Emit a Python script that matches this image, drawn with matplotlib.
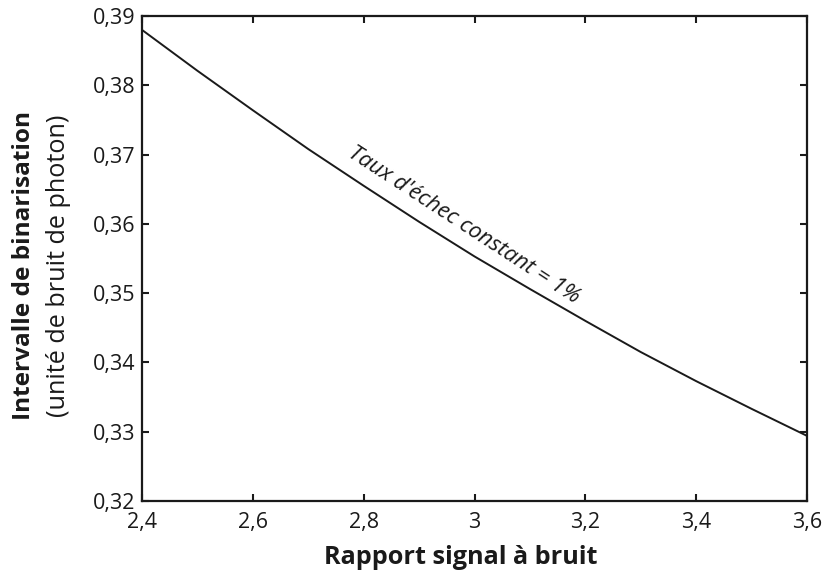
import matplotlib
matplotlib.use("Agg")
import matplotlib.pyplot as plt
from matplotlib.ticker import FuncFormatter

plt.rcParams['font.family'] = ['Open Sans', 'DejaVu Sans']

# values
snr = [2.4, 2.5, 2.6, 2.7, 2.8, 2.9, 3.0, 3.1, 3.2, 3.3, 3.4, 3.5, 3.6]
interval = [0.3880, 0.3821, 0.3764, 0.3708, 0.3655, 0.3603, 0.3553,
            0.3506, 0.3460, 0.3415, 0.3373, 0.3333, 0.3294]

xticks = [2.4, 2.6, 2.8, 3.0, 3.2, 3.4, 3.6]
yticks = [0.32, 0.33, 0.34, 0.35, 0.36, 0.37, 0.38, 0.39]

fig = plt.figure(figsize=(8.23, 5.76), dpi=100)
ax = fig.add_subplot(111)
fig.subplots_adjust(left=0.1725, right=0.9806, bottom=0.1302, top=0.9722)

ax.plot(snr, interval, color='#1a1a1a', lw=1.4)

ax.set_xlim(2.4, 3.6)
ax.set_ylim(0.32, 0.39)
ax.set_xticks(xticks)
ax.set_yticks(yticks)


def fr(v, pos):
    s = ('%.2f' % v).rstrip('0').rstrip('.')
    return s.replace('.', ',')


ax.xaxis.set_major_formatter(FuncFormatter(fr))
ax.yaxis.set_major_formatter(FuncFormatter(fr))
ax.tick_params(direction='in', length=5, width=1.5, labelsize=15.5,
               top=True, right=True, pad=5, colors='#1a1a1a')
ax.tick_params(axis='x', pad=8)
for sp in ax.spines.values():
    sp.set_linewidth(1.6)
    sp.set_color('#1a1a1a')

ax.text(2.98, 0.3598, "Taux d'échec constant = 1%", style='italic',
        fontsize=16, rotation=-33, ha='center', va='center', color='#1a1a1a')

fig.text(461 / 823, 1 - 557 / 576, 'Rapport signal à bruit', fontsize=18.2,
         fontweight='bold', ha='center', va='center', color='#1a1a1a')
fig.text(24 / 823, 1 - 266 / 576, 'Intervalle de binarisation', fontsize=17.6,
         fontweight='bold', rotation=90, ha='center', va='center', color='#1a1a1a')
fig.text(59 / 823, 1 - 266 / 576, '(unité de bruit de photon)', fontsize=18.2,
         rotation=90, ha='center', va='center', color='#1a1a1a')

fig.savefig('out.png', dpi=100)
